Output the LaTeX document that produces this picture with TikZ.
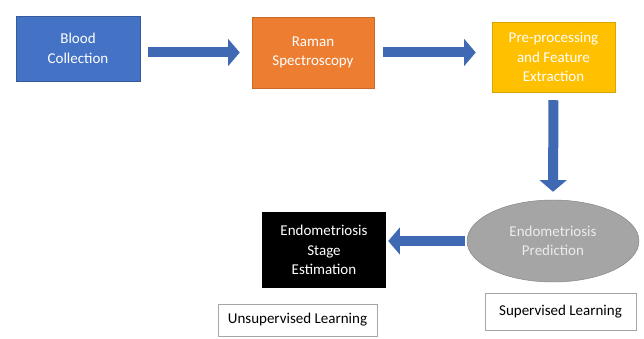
\documentclass[tikz,border=0pt]{standalone}
\usepackage{fontspec}
\setmainfont{Carlito}
\usetikzlibrary{arrows.meta,shapes.geometric}
\definecolor{boxblue}{HTML}{4472C4}
\definecolor{boxorange}{HTML}{ED7D31}
\definecolor{boxyellow}{HTML}{FFC000}
\definecolor{boxgray}{HTML}{A5A5A5}
\definecolor{flowblue}{HTML}{3F6AB3}
\tikzset{
  stepbox/.style={rectangle, align=center, text=white, font=\fontsize{12.8}{16.5}\selectfont},
  labelbox/.style={rectangle, draw=gray!70, fill=white, font=\fontsize{12.8}{15}\selectfont},
  flow/.style={line width=0.3cm, flowblue, -{Triangle[length=0.35cm,width=0.8cm]}}
}
\begin{document}
\begin{tikzpicture}[x=0.03cm, y=-0.03cm]
    \useasboundingbox (0, 0) rectangle (644, 339);
    \node[stepbox, fill=boxblue, draw=boxblue!80!black, minimum width=3.72cm, minimum height=1.95cm] (blood) at (78, 48.5) {Blood\\Collection};
    \node[stepbox, fill=boxorange, draw=boxorange!85!black, minimum width=3.66cm, minimum height=2.13cm] (raman) at (313, 52.5) {Raman\\Spectroscopy};
    \node[stepbox, fill=boxyellow, draw=boxyellow!85!black, minimum width=3.69cm, minimum height=2.1cm] (prep) at (553.5, 57) {Pre-processing\\and Feature\\Extraction};
    \node[stepbox, ellipse, fill=boxgray, draw=boxgray!80!black, text=gray!15, minimum width=5.16cm, minimum height=2.46cm] (pred) at (553, 241) {Endometriosis\\Prediction};
    \node[stepbox, fill=black, minimum width=3.72cm, minimum height=2.28cm] (stage) at (324, 250) {Endometriosis\\Stage\\Estimation};
    \node[labelbox, minimum width=4.77cm, minimum height=0.96cm] (unsup) at (297.5, 320) {Unsupervised Learning};
    \node[labelbox, minimum width=4.53cm, minimum height=1.11cm] (sup) at (560.5, 311.5) {Supervised Learning};
    \draw[flow, shorten <=0.24cm, shorten >=0.36cm] (blood.east |- raman) -- (raman.west);
    \draw[flow, shorten <=0.27cm, shorten >=0.48cm] (raman.east) -- (raman.east -| prep.west);
    \draw[flow, shorten <=0.24cm, shorten >=0.24cm] (prep.south) -- (pred.north);
    \draw[flow, shorten <=0.06cm, shorten >=0.06cm] (pred.west) -- (pred.west -| stage.east);
\end{tikzpicture}
\end{document}
